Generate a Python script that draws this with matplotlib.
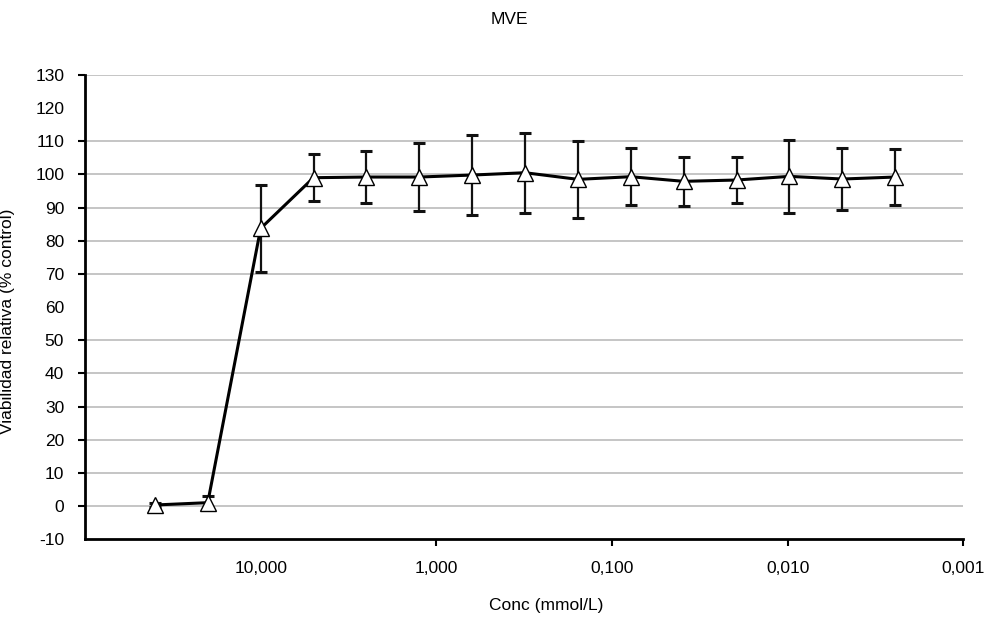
import matplotlib
matplotlib.use("Agg")
import matplotlib.pyplot as plt
import numpy as np

plt.rcParams['font.family'] = ['Liberation Sans', 'DejaVu Sans']

# Serial dilution concentrations (mmol/L)
conc = [40, 20, 10, 5, 2.5, 1.25, 0.625, 0.3125, 0.15625, 0.078125,
        0.0390625, 0.01953125, 0.009765625, 0.0048828125, 0.00244140625]
# Mean relative viability (% control) and standard deviation
viability = [0.3, 1.0, 83.7, 99.0, 99.2, 99.2, 99.8, 100.5, 98.5, 99.3,
             97.9, 98.3, 99.4, 98.6, 99.2]
sd = [0.5, 2.0, 13.0, 7.0, 7.8, 10.2, 12.0, 12.0, 11.7, 8.6,
      7.3, 6.9, 11.0, 9.3, 8.5]

x_ticks = [10, 1, 0.1, 0.01, 0.001]
x_ticklabels = ["10,000", "1,000", "0,100", "0,010", "0,001"]
y_ticks = list(range(-10, 131, 10))
grid_levels = [0, 10, 20, 30, 40, 50, 70, 80, 90, 100, 110, 130]

FS = 12.5

fig = plt.figure(figsize=(9.88, 6.19), dpi=100)
ax = fig.add_axes([0.086, 0.129, 0.889, 0.750])

for g in grid_levels:
    ax.axhline(g, color='#c0c0c0', lw=1.3, zorder=0)

ax.errorbar(conc, viability, yerr=sd, fmt='none', ecolor='#111111',
            elinewidth=1.6, capsize=4.5, capthick=2.2, zorder=2)
ax.plot(conc, viability, color='black', lw=2.2, zorder=3)
ax.plot(conc, viability, linestyle='none', marker='^', markersize=11,
        markerfacecolor='white', markeredgecolor='black',
        markeredgewidth=1.0, zorder=4)

ax.set_xscale('log')
ax.set_xlim(100, 0.001)
ax.set_ylim(-10, 130)

ax.set_xticks(x_ticks)
ax.set_xticklabels(x_ticklabels)
ax.xaxis.set_minor_locator(matplotlib.ticker.NullLocator())
ax.set_yticks(y_ticks)
ax.set_yticklabels([str(v) for v in y_ticks])

ax.tick_params(axis='both', direction='out', length=5, width=1.5,
               labelsize=FS, colors='black')
ax.tick_params(axis='x', pad=11)
ax.tick_params(axis='y', pad=10)

# hide tick marks where no gridline is drawn
for t, v in zip(ax.yaxis.get_major_ticks(), y_ticks):
    if v in (-10, 60, 120):
        t.tick1line.set_visible(False)
ax.xaxis.get_major_ticks()[0].tick1line.set_visible(False)

for s in ('top', 'right'):
    ax.spines[s].set_visible(False)
for s in ('left', 'bottom'):
    ax.spines[s].set_linewidth(2.0)
    ax.spines[s].set_color('black')

ax.set_xlabel("Conc (mmol/L)", fontsize=FS)
ax.xaxis.set_label_coords(0.525, -0.143)
ax.xaxis.label.set_va('center')
ax.set_ylabel("Viabilidad relativa (% control)", fontsize=FS)
ax.yaxis.set_label_coords(-0.088, 0.469)
ax.yaxis.label.set_va('center')
fig.text(0.516, 0.968, "MVE", ha='center', va='center', fontsize=FS)

fig.savefig("out.png", dpi=100, facecolor='white')
